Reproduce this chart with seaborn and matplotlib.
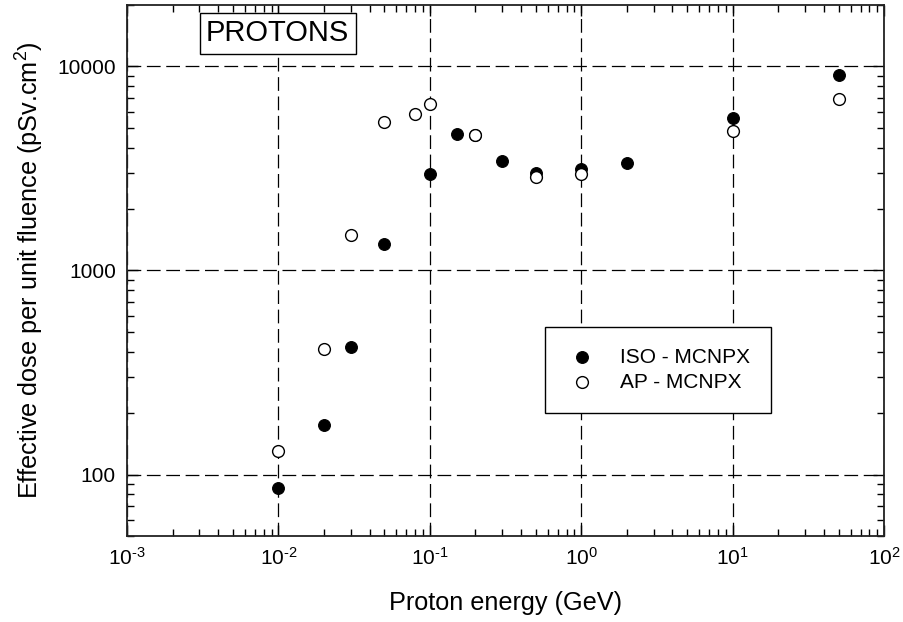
import math
import matplotlib
matplotlib.use("Agg")
import matplotlib.pyplot as plt
import matplotlib.ticker as mticker
import seaborn as sns
import pandas as pd

# data (GeV, pSv.cm^2)
iso_energy = [0.01, 0.02, 0.03, 0.05, 0.1, 0.15, 0.2, 0.3, 0.5, 1, 2, 10, 50]
iso_dose = [86, 175, 424, 1355, 2966, 4680, 4600, 3450, 3010, 3150, 3360, 5560, 9030]

ap_energy = [0.01, 0.02, 0.03, 0.05, 0.08, 0.1, 0.2, 0.5, 1, 10, 50]
ap_dose = [131, 413, 1496, 5330, 5820, 6540, 4610, 2880, 2980, 4800, 6950]

x_ticks = [1e-3, 1e-2, 1e-1, 1e0, 1e1, 1e2]
y_ticks = [100, 1000, 10000]

sns.set_theme(style="white")
plt.rcParams["font.family"] = ["Liberation Sans", "DejaVu Sans"]
plt.rcParams["mathtext.fontset"] = "custom"
plt.rcParams["mathtext.rm"] = "Liberation Sans"
plt.rcParams["mathtext.default"] = "regular"
plt.rcParams["text.color"] = "black"
plt.rcParams["axes.labelcolor"] = "black"


def pow10_label(v, pos):
    # hyphen instead of the long math minus, like the original
    e = int(round(math.log10(v)))
    return r"10$^{\text{%d}}$" % e


iso = pd.DataFrame({"energy": iso_energy, "dose": iso_dose})
ap = pd.DataFrame({"energy": ap_energy, "dose": ap_dose})

fig = plt.figure(figsize=(9.04, 6.22), dpi=100)
ax = fig.add_axes([0.1405, 0.1383, 0.8375, 0.8537])

sns.scatterplot(data=iso, x="energy", y="dose", ax=ax, color="black",
                edgecolor="black", s=72, linewidth=0.8, label="ISO - MCNPX", zorder=3)
sns.scatterplot(data=ap, x="energy", y="dose", ax=ax, facecolor="white",
                edgecolor="black", s=72, linewidth=1.0, label="AP - MCNPX", zorder=4)

ax.set_xscale("log")
ax.set_yscale("log")
ax.set_xlim(1e-3, 1e2)
ax.set_ylim(50, 20000)

ax.xaxis.set_major_locator(mticker.FixedLocator(x_ticks))
ax.xaxis.set_major_formatter(mticker.FuncFormatter(pow10_label))
ax.xaxis.set_minor_locator(mticker.LogLocator(base=10, subs=range(2, 10), numticks=20))
ax.xaxis.set_minor_formatter(mticker.NullFormatter())
ax.yaxis.set_major_locator(mticker.FixedLocator(y_ticks))
ax.yaxis.set_major_formatter(mticker.FuncFormatter(lambda v, p: f"{v:g}"))
ax.yaxis.set_minor_locator(mticker.LogLocator(base=10, subs=range(2, 10), numticks=20))
ax.yaxis.set_minor_formatter(mticker.NullFormatter())

ax.tick_params(which="both", direction="in", bottom=True, left=True, top=True,
               right=True, colors="black", labelsize=15)
ax.tick_params(which="major", length=8, width=1, pad=8)
ax.tick_params(which="minor", length=5, width=1)

ax.grid(True, which="major", color="black", linestyle=(0, (11, 4.5)), linewidth=0.9)
for sp in ax.spines.values():
    sp.set_color("#222222")
    sp.set_linewidth(1.3)

ax.set_xlabel("Proton energy (GeV)", fontsize=18.2, labelpad=16)
ax.set_ylabel("Effective dose per unit fluence (pSv.cm$^2$)", fontsize=18.2, labelpad=8)

ax.text(0.199, 0.947, "PROTONS", transform=ax.transAxes, fontsize=21,
        ha="center", va="center",
        bbox=dict(boxstyle="square,pad=0.22", facecolor="white", edgecolor="black",
                  linewidth=1.0))

leg = ax.legend(loc="upper left", bbox_to_anchor=(0.552, 0.394), fontsize=15,
                frameon=True, fancybox=False, edgecolor="black", framealpha=1,
                borderpad=1.0, handletextpad=1.0, labelspacing=0.3,
                borderaxespad=0, handlelength=1.6)
leg.get_frame().set_linewidth(1.0)

fig.savefig("out.png", dpi=100)
